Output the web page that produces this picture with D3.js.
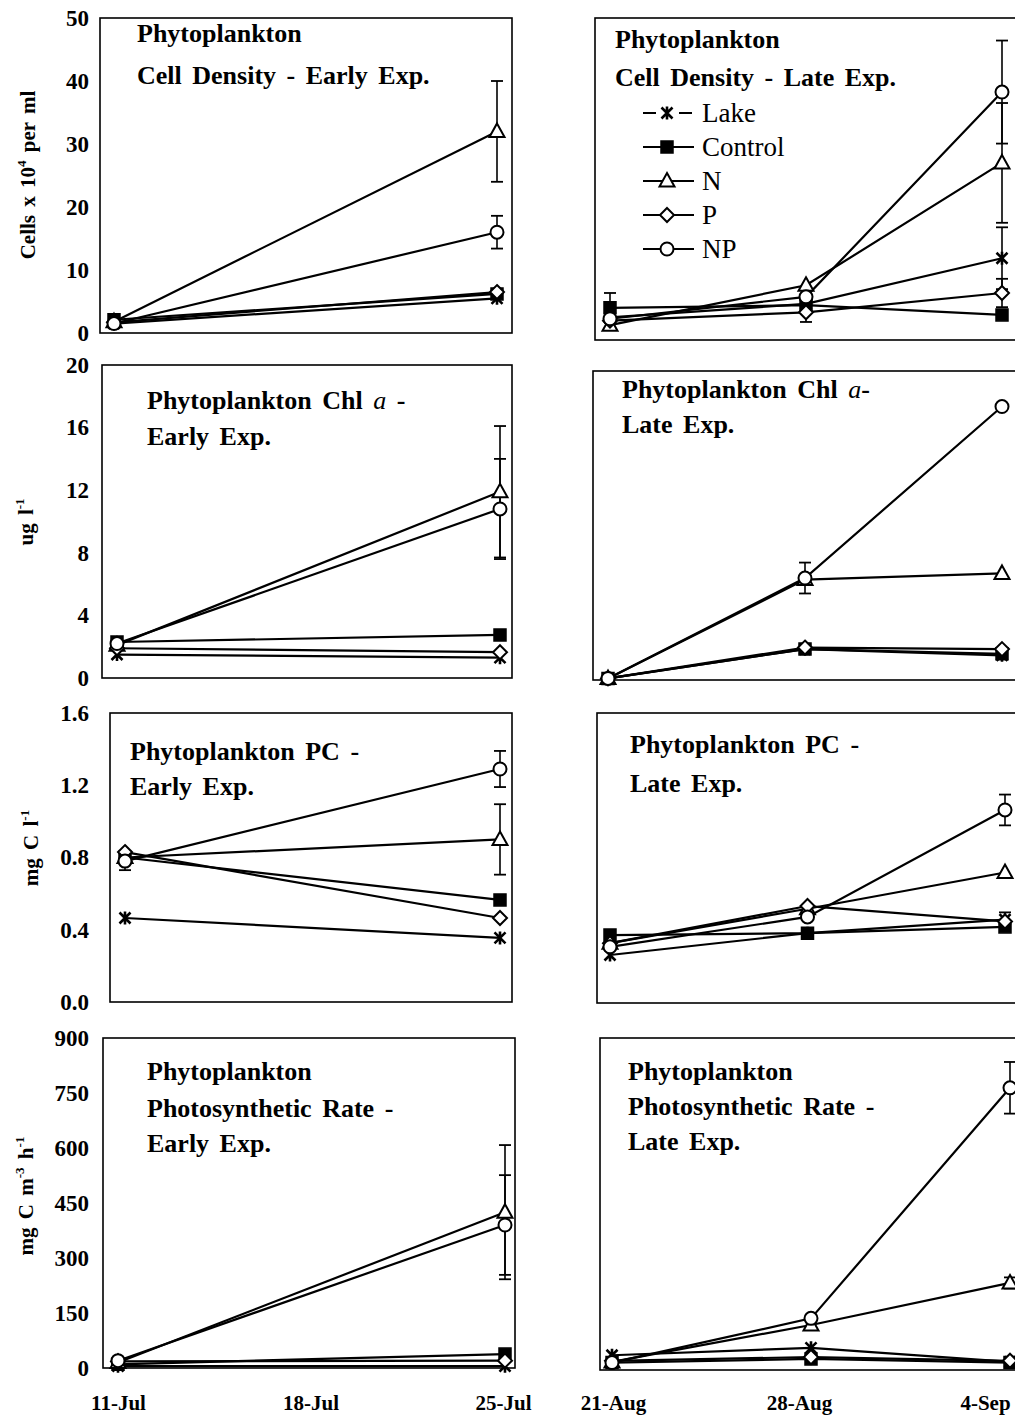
<!DOCTYPE html>
<html>
<head>
<meta charset="utf-8">
<script src="https://cdn.jsdelivr.net/npm/d3@7"></script>
<style>
  body { margin: 0; background: #fff; }
  svg { display: block; }
  text { font-family: "Liberation Serif", "Times New Roman", serif; fill: #000; }
</style>
</head>
<body>
<svg id="chart" width="1015" height="1417"></svg>
<script>
// ---------- data ----------
const series = ["Lake", "Control", "N", "P", "NP"];

const earlyDates = ["11-Jul", "25-Jul"];
const lateDates = ["21-Aug", "28-Aug", "4-Sep"];
const earlyTicks = ["11-Jul", "18-Jul", "25-Jul"];
const lateTicks = ["21-Aug", "28-Aug", "4-Sep"];

// values per series (order: Lake, Control, N, P, NP)
const cellsEarly    = [[1.5, 5.5], [2.1, 6.2], [1.8, 32.0], [1.7, 6.5], [1.5, 16.0]];
const cellsEarlyErr = [[0, 0], [0, 0], [0, 8.0], [0, 0], [0, 2.6]];
const cellsLate     = [[3.5, 5.6, 12.7], [5.0, 5.4, 3.9], [2.3, 8.5, 27.5], [3.0, 4.3, 7.3], [3.3, 6.7, 38.5]];
const cellsLateErr  = [[0, 0, 4.8], [2.3, 0, 0], [0, 0, 9.3], [0, 1.5, 2.2], [0, 0, 8.0]];

const chlEarly      = [[1.5, 1.3], [2.3, 2.75], [2.1, 11.9], [1.9, 1.65], [2.2, 10.8]];
const chlEarlyErr   = [[0, 0], [0, 0], [0, 4.2], [0, 0], [0, 3.2]];
const chlLate       = [[0.1, 2.0, 1.6], [0.1, 2.0, 1.7], [0.1, 6.5, 6.9], [0.1, 2.1, 2.0], [0.1, 6.6, 17.7]];
const chlLateErr    = [[0, 0.25, 0], [0, 0, 0], [0, 0, 0], [0, 0, 0], [0, 1.0, 0]];

const pcEarly       = [[0.465, 0.355], [0.80, 0.565], [0.80, 0.90], [0.83, 0.465], [0.78, 1.29]];
const pcEarlyErr    = [[0, 0], [0, 0], [0, 0.195], [0, 0], [0.05, 0.10]];
const pcLate        = [[0.265, 0.385, 0.46], [0.375, 0.385, 0.42], [0.33, 0.52, 0.72], [0.33, 0.535, 0.45], [0.31, 0.475, 1.065]];
const pcLateErr     = [[0, 0, 0.04], [0, 0, 0], [0, 0, 0], [0, 0, 0], [0, 0, 0.085]];

const photoEarly    = [[5, 5], [10, 38], [15, 425], [18, 20], [20, 390]];
const photoEarlyErr = [[0, 0], [0, 0], [0, 183], [0, 0], [0, 136]];
const photoLate     = [[40, 60, 22], [20, 30, 20], [22, 122, 236], [25, 35, 25], [20, 140, 765]];
const photoLateErr  = [[0, 0, 0], [0, 0, 0], [0, 10, 15], [0, 0, 0], [0, 0, 70]];

// y axes per row
const yMaxima = [50, 20, 1.6, 900];
const yStepList = [10, 4, 0.4, 150];
const yFormats = ["d", "d", ".1f", "d"];
const yTitles = [
  [["Cells x 10"], ["4", "sup"], [" per ml"]],
  [["ug l"], ["-1", "sup"]],
  [["mg C l"], ["-1", "sup"]],
  [["mg C m"], ["-3", "sup"], [" h"], ["-1", "sup"]]
];

// panel titles (each line is a list of [text, style])
const panelTitles = [
  [[["Phytoplankton"]], [["Cell Density - Early Exp."]]],
  [[["Phytoplankton"]], [["Cell Density - Late Exp."]]],
  [[["Phytoplankton Chl "], ["a", "it"], [" -"]], [["Early Exp."]]],
  [[["Phytoplankton Chl "], ["a", "it"], ["-"]], [["Late Exp."]]],
  [[["Phytoplankton PC -"]], [["Early Exp."]]],
  [[["Phytoplankton PC -"]], [["Late Exp."]]],
  [[["Phytoplankton"]], [["Photosynthetic Rate -"]], [["Early Exp."]]],
  [[["Phytoplankton"]], [["Photosynthetic Rate -"]], [["Late Exp."]]]
];

// ---------- layout ----------
const parse = d3.timeParse("%d-%b");
const svg = d3.select("#chart");

const layout = [
  { frame: [100, 18, 512, 333],   xr: [114, 497], tx: 137, ty: [42, 84] },
  { frame: [595, 18, 1040, 340],  xr: [610, 1002], tx: 615, ty: [48, 86] },
  { frame: [102, 365, 512, 678],  xr: [117, 500], tx: 147, ty: [409, 445] },
  { frame: [593, 371, 1040, 680], xr: [608, 1002], tx: 622, ty: [398, 433] },
  { frame: [110, 713, 512, 1002], xr: [125, 500], tx: 130, ty: [760, 795] },
  { frame: [597, 713, 1040, 1003], xr: [610, 1005], tx: 630, ty: [753, 792] },
  { frame: [103, 1038, 515, 1368], xr: [118, 505], tx: 147, ty: [1080, 1117, 1152] },
  { frame: [600, 1038, 1040, 1370], xr: [612, 1010], tx: 628, ty: [1080, 1115, 1150] }
];

const panelData = [
  [cellsEarly, cellsEarlyErr, earlyDates],
  [cellsLate, cellsLateErr, lateDates],
  [chlEarly, chlEarlyErr, earlyDates],
  [chlLate, chlLateErr, lateDates],
  [pcEarly, pcEarlyErr, earlyDates],
  [pcLate, pcLateErr, lateDates],
  [photoEarly, photoEarlyErr, earlyDates],
  [photoLate, photoLateErr, lateDates]
];

// ---------- marker shapes ----------
const shapes = {
  Lake: { draw(c) { c.moveTo(-5.5, -5.5); c.lineTo(5.5, 5.5); c.moveTo(-5.5, 5.5); c.lineTo(5.5, -5.5); c.moveTo(0, -6.5); c.lineTo(0, 6.5); } },
  Control: { draw(c) { c.moveTo(-6, -6); c.lineTo(6, -6); c.lineTo(6, 6); c.lineTo(-6, 6); c.closePath(); } },
  N: { draw(c) { c.moveTo(0, -8); c.lineTo(7.5, 5.5); c.lineTo(-7.5, 5.5); c.closePath(); } },
  P: { draw(c) { c.moveTo(0, -7); c.lineTo(7, 0); c.lineTo(0, 7); c.lineTo(-7, 0); c.closePath(); } },
  NP: { draw(c) { c.moveTo(6.5, 0); c.arc(0, 0, 6.5, 0, 2 * Math.PI); } }
};
const markerStyle = {
  Lake: { fill: "none", sw: 2.6 },
  Control: { fill: "#000", sw: 1.5 },
  N: { fill: "#fff", sw: 2 },
  P: { fill: "#fff", sw: 2 },
  NP: { fill: "#fff", sw: 2 }
};
function drawMarker(g, name, cx, cy) {
  const st = markerStyle[name];
  g.append("path")
    .attr("d", d3.symbol().type(shapes[name])())
    .attr("transform", `translate(${cx},${cy})`)
    .attr("fill", st.fill)
    .attr("stroke", "#000")
    .attr("stroke-width", st.sw);
}

// ---------- panels ----------
panelData.forEach(([vals, errs, dates], i) => {
  const row = Math.floor(i / 2), col = i % 2;
  const L = layout[i];
  const [fx0, fy0, fx1, fy1] = L.frame;
  const g = svg.append("g");

  const dateVals = dates.map(parse);
  const x = d3.scaleTime().domain([dateVals[0], dateVals[dateVals.length - 1]]).range(L.xr);
  const y = d3.scaleLinear().domain([0, yMaxima[row]]).range([fy1, fy0]);

  // frame
  g.append("rect")
    .attr("x", fx0).attr("y", fy0)
    .attr("width", fx1 - fx0).attr("height", fy1 - fy0)
    .attr("fill", "none").attr("stroke", "#000").attr("stroke-width", 1.6);

  // y axis labels on the left column
  if (col === 0) {
    const ticks = d3.range(0, yMaxima[row] + yStepList[row] / 2, yStepList[row]);
    const ax = g.append("g")
      .attr("transform", `translate(89,0)`)
      .call(d3.axisLeft(y).tickValues(ticks).tickSize(0).tickPadding(0).tickFormat(d3.format(yFormats[row])));
    ax.select(".domain").remove();
    ax.selectAll("text")
      .attr("font-family", "Liberation Serif, Times New Roman, serif")
      .attr("font-size", 23).attr("font-weight", "bold").attr("fill", "#000");

    // rotated axis title
    const titlePos = [[35, 175], [33, 522], [38, 848], [33, 1196]][row];
    const t = g.append("text")
      .attr("transform", `translate(${titlePos[0]},${titlePos[1]}) rotate(-90)`)
      .attr("text-anchor", "middle")
      .attr("font-size", 21).attr("font-weight", "bold")
      .attr("word-spacing", 3);
    let shift = 0;
    yTitles[row].forEach(([txt, kind]) => {
      const sp = t.append("tspan").text(txt);
      if (kind === "sup") {
        sp.attr("font-size", 13).attr("dy", -9 - shift);
        shift = -9;
      } else if (shift !== 0) {
        sp.attr("dy", -shift);
        shift = 0;
      }
    });
  }

  // x axis labels on the bottom row
  if (row === 3) {
    const tickDates = (col === 0 ? earlyTicks : lateTicks).map(parse);
    const labelRange = col === 0 ? [118, 503] : [613, 985];
    const xl = x.copy().range(labelRange);
    const ax = g.append("g")
      .attr("transform", `translate(0,1395)`)
      .call(d3.axisBottom(xl).tickValues(tickDates).tickSize(0).tickPadding(0).tickFormat(d3.timeFormat("%-d-%b")));
    ax.select(".domain").remove();
    ax.selectAll("text")
      .attr("font-family", "Liberation Serif, Times New Roman, serif")
      .attr("font-size", 21).attr("font-weight", "bold").attr("fill", "#000");
  }

  // panel title
  panelTitles[i].forEach((line, li) => {
    const t = g.append("text")
      .attr("x", L.tx).attr("y", L.ty[li])
      .attr("font-size", 26).attr("font-weight", "bold")
      .attr("word-spacing", 4)
      .attr("xml:space", "preserve");
    line.forEach(([txt, kind]) => {
      const sp = t.append("tspan").text(txt);
      if (kind === "it") sp.attr("font-style", "italic").attr("font-weight", "normal");
    });
  });

  const line = d3.line().x(d => x(d.date)).y(d => y(d.v));
  const rows = series.map((name, s) => ({
    name,
    pts: vals[s].map((v, k) => ({ date: dateVals[k], v, e: errs[s][k] }))
  }));

  // connecting lines
  rows.forEach(r => {
    g.append("path").datum(r.pts)
      .attr("d", line)
      .attr("fill", "none").attr("stroke", "#000").attr("stroke-width", 2.2);
  });

  // error bars
  rows.forEach(r => {
    r.pts.filter(p => p.e > 0).forEach(p => {
      const cx = x(p.date), yt = y(p.v + p.e), yb = y(p.v - p.e);
      g.append("line").attr("x1", cx).attr("x2", cx).attr("y1", yt).attr("y2", yb)
        .attr("stroke", "#000").attr("stroke-width", 1.6);
      [yt, yb].forEach(yy => g.append("line")
        .attr("x1", cx - 6).attr("x2", cx + 6).attr("y1", yy).attr("y2", yy)
        .attr("stroke", "#000").attr("stroke-width", 1.8));
    });
  });

  // markers
  rows.forEach(r => r.pts.forEach(p => drawMarker(g, r.name, x(p.date), y(p.v))));

  // legend inside the late cell density panel
  if (i === 1) {
    const lg = g.append("g");
    series.forEach((name, s) => {
      const ly = 113 + s * 34;
      if (name === "Lake") {
        lg.append("line").attr("x1", 643).attr("x2", 656).attr("y1", ly).attr("y2", ly).attr("stroke", "#000").attr("stroke-width", 2);
        lg.append("line").attr("x1", 679).attr("x2", 692).attr("y1", ly).attr("y2", ly).attr("stroke", "#000").attr("stroke-width", 2);
      } else {
        lg.append("line").attr("x1", 643).attr("x2", 694).attr("y1", ly).attr("y2", ly).attr("stroke", "#000").attr("stroke-width", 2);
      }
      drawMarker(lg, name, 667, ly);
      lg.append("text").attr("x", 702).attr("y", ly + 9).attr("font-size", 27).text(name);
    });
  }
});
</script>
</body>
</html>
